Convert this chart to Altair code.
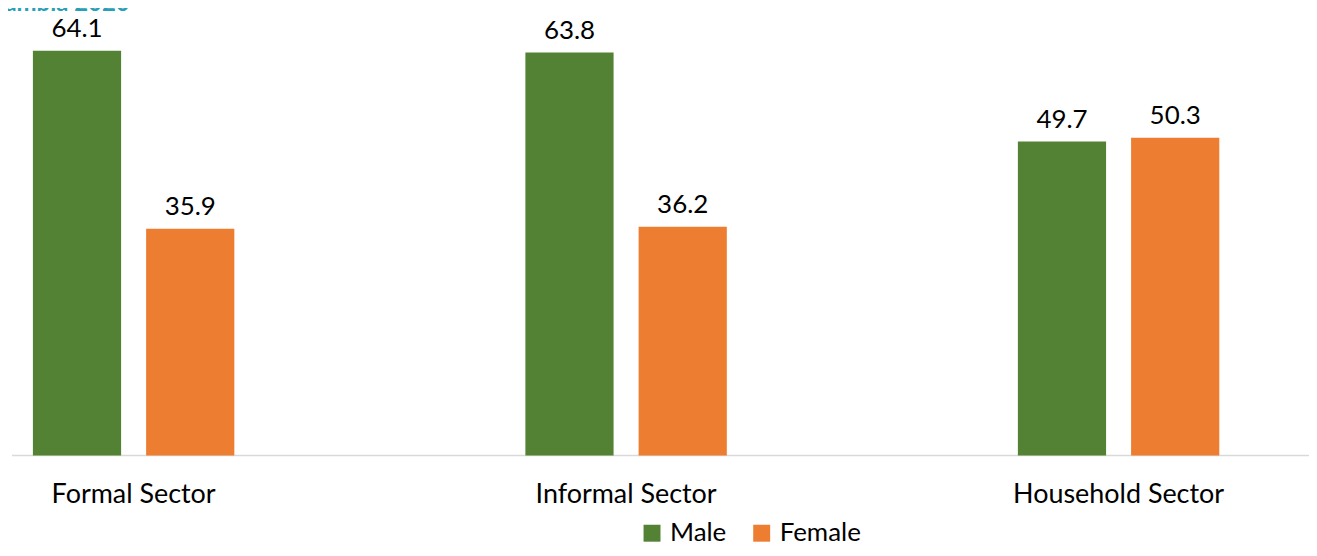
import altair as alt
import pandas as pd

sectors = ["Formal Sector", "Informal Sector", "Household Sector"]
male = [64.1, 63.8, 49.7]
female = [35.9, 36.2, 50.3]
genders = ["Male", "Female"]
colors = ["#548235", "#ED7D31"]
title_text = ["Zambia 2020"]

rows = []
for s, m, f in zip(sectors, male, female):
    rows.append({"sector": s, "gender": "Male", "value": m})
    rows.append({"sector": s, "gender": "Female", "value": f})
df = pd.DataFrame(rows)

FONT = "Lato"

x = alt.X(
    "sector:N",
    sort=sectors,
    scale=alt.Scale(range=[-125, 1357], paddingInner=0.591, paddingOuter=0.2955),
    axis=alt.Axis(title=None, domain=False, ticks=False, grid=False,
                  labelFontSize=27, labelFont=FONT, labelColor="#000000",
                  labelPadding=26, labelAngle=0, labelLimit=0),
)
xoff = alt.XOffset("gender:N", sort=genders,
                   scale=alt.Scale(paddingInner=0.221, paddingOuter=0))
y = alt.Y("value:Q", scale=alt.Scale(domain=[0, 70.73], nice=False, zero=True), axis=None)
color = alt.Color(
    "gender:N", sort=genders,
    scale=alt.Scale(domain=genders, range=colors),
    legend=alt.Legend(title=None, orient="none", legendX=629, legendY=513,
                      direction="horizontal", symbolType="square", symbolSize=289,
                      symbolStrokeWidth=0, symbolOpacity=1, labelFontSize=26,
                      labelFont=FONT, labelColor="#000000", labelOffset=5,
                      columnPadding=22, labelLimit=0),
)

bars = alt.Chart(df).mark_bar().encode(x=x, xOffset=xoff, y=y, color=color)
labels = alt.Chart(df).mark_text(
    baseline="alphabetic", dy=-14, fontSize=26, font=FONT, color="#000000"
).encode(x=x, xOffset=xoff, y=y, text=alt.Text("value:Q", format=".1f"))

rule = alt.Chart(pd.DataFrame({"v": [0]})).mark_rule(color="#D9D9D9", strokeWidth=1.5).encode(
    x=alt.value(0), x2=alt.value(1301), y=alt.value(448)
)

title = alt.Chart(pd.DataFrame({"t": title_text})).mark_text(
    align="right", baseline="alphabetic", fontSize=24, fontWeight="bold",
    font=FONT, color="#27A0B5"
).encode(x=alt.value(118), y=alt.value(2), text="t:N")

chart = alt.layer(rule, bars, labels, title).properties(
    width=1301, height=448,
    autosize=alt.AutoSizeParams(type="none"),
    padding={"left": 4, "top": 0, "right": 0, "bottom": 92},
).configure_view(stroke=None)

chart.save("out.html", embed_options={"renderer": "svg", "actions": False})
